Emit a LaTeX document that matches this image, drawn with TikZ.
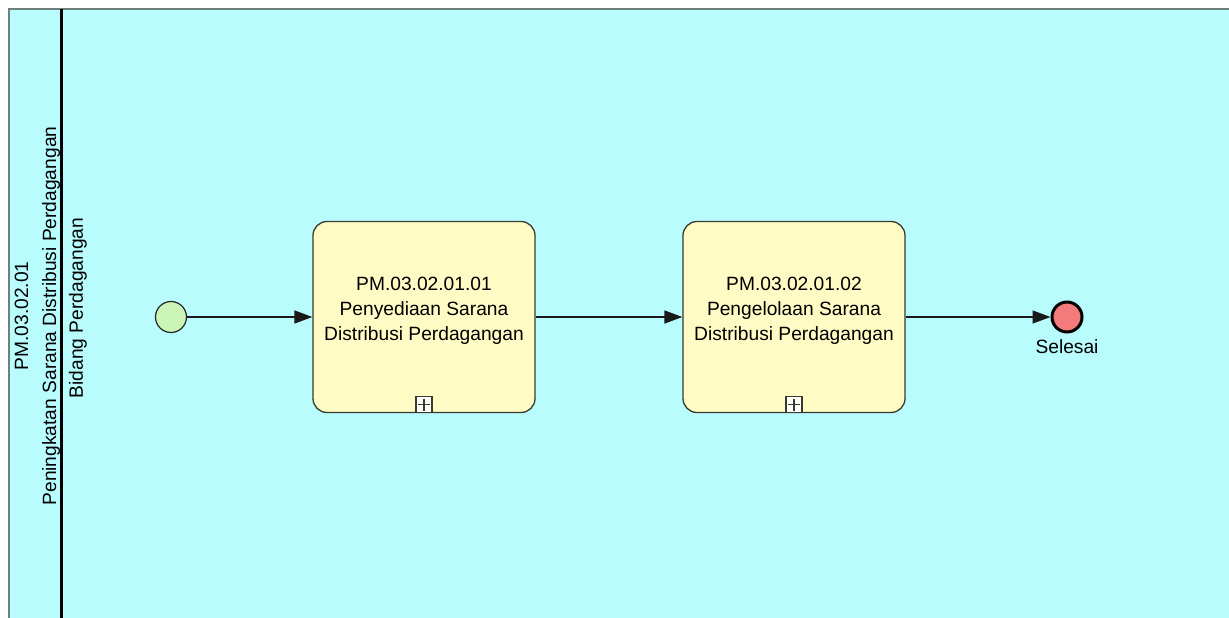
\documentclass[tikz,border=0pt]{standalone}
\usepackage{fontspec}
\setmainfont{Liberation Sans}
\usetikzlibrary{shapes.geometric, arrows.meta, positioning}
\definecolor{poolfill}{HTML}{B9FCFE}
\definecolor{poolline}{HTML}{6E807E}
\definecolor{taskfill}{HTML}{FFFBC4}
\definecolor{taskline}{HTML}{3A3A30}
\definecolor{startfill}{HTML}{CCF5B8}
\definecolor{endfill}{HTML}{F47B7B}

\begin{document}
\begin{tikzpicture}[x=1pt, y=-1pt, node distance=253pt]
        \tikzstyle{lanetext} = [rotate=90, align=center, inner sep=0pt, font=\fontsize{19.2}{28}\selectfont]
        \tikzstyle{task} = [rectangle, rounded corners=14pt, minimum width=222pt, minimum height=191pt, draw=taskline, line width=1.3pt, fill=taskfill]
        \tikzstyle{tasktext} = [align=center, inner sep=0pt, font=\fontsize{19.2}{25}\selectfont]
        \tikzstyle{plusbox} = [rectangle, minimum size=16pt, inner sep=0pt, draw=taskline, line width=1.2pt, fill=white!90!taskfill,
            path picture={\draw[line width=1.3pt] ([yshift=-2pt]path picture bounding box.north) -- ([yshift=2pt]path picture bounding box.south);
                          \draw[line width=1.3pt] ([xshift=2pt]path picture bounding box.west) -- ([xshift=-2pt]path picture bounding box.east);}]
        \tikzstyle{startev} = [circle, minimum size=31pt, inner sep=0pt, draw=black!85, line width=1.2pt, fill=startfill]
        \tikzstyle{endev} = [circle, minimum size=30pt, inner sep=0pt, draw=black, line width=3pt, fill=endfill]
        \tikzstyle{flow} = [line width=1.5pt, draw=black!90, -{Triangle[length=18pt, width=13pt]}]
        \useasboundingbox (0,0) rectangle (1229,618);
        \clip (0,0) rectangle (1229,618);
        % pool and lane
        \fill[poolfill] (9,9) rectangle (1229,618);
        \draw[poolline, line width=2.2pt] (9,618) -- (9,9) -- (1229,9);
        \draw[black, line width=3pt] (61,9) -- (61,618);
        \node (poolname) [lanetext] at (37.5,316) {PM.03.02.01\\Peningkatan Sarana Distribusi Perdagangan};
        \node (lanename) [lanetext] at (78,308) {Bidang Perdagangan};
        % events and tasks
        \node (start) [startev] at (171,317) {};
        \node (t1) [task, right of=start] {};
        \node (t2) [task, right of=t1, node distance=370pt] {};
        \node (end) [endev, right of=t2, node distance=273pt] {};
        \node (endlbl) [below=4pt of end, inner sep=2pt, font=\fontsize{19.2}{22}\selectfont] {Selesai};
        \node (t1text) [tasktext] at ([yshift=6pt]t1.center) {PM.03.02.01.01\\Penyediaan Sarana\\Distribusi Perdagangan};
        \node (t2text) [tasktext] at ([yshift=6pt]t2.center) {PM.03.02.01.02\\Pengelolaan Sarana\\Distribusi Perdagangan};
        \node (t1plus) [plusbox, above=0pt of t1.south] {};
        \node (t2plus) [plusbox, above=0pt of t2.south] {};
        % flows
        \draw [flow] (start) -- (t1);
        \draw [flow] (t1) -- (t2);
        \draw [flow] (t2) -- (end);
    \end{tikzpicture}
\end{document}
